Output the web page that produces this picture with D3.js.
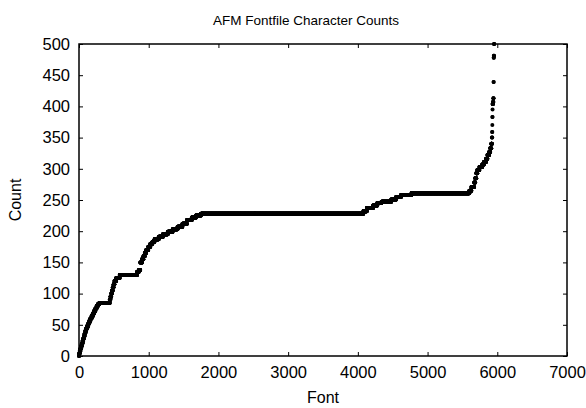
<!DOCTYPE html>
<html>
<head>
<meta charset="utf-8">
<script src="https://cdn.jsdelivr.net/npm/d3@7"></script>
<style>
  body { margin: 0; background: #fff; }
  text { font-family: "Liberation Sans", Arial, sans-serif; fill: #000; }
</style>
</head>
<body>
<svg id="chart"></svg>
<script>
const width = 586;
const height = 408;
const margin = {left: 79, right: 19, top: 44, bottom: 52};

// sorted character counts, stored as value + how many fonts share it
const charCounts = [0, 4, 8, 12, 16, 20, 24, 28, 32, 36, 40, 44, 48, 52, 56, 60, 64, 68, 72, 76, 80, 83, 85,
  90, 95, 100, 105, 110, 115, 120, 125, 130, 135, 138, 150, 155, 160, 165, 170, 175, 180, 183, 187, 191,
  195, 199, 203, 207, 212, 218, 222, 225, 228, 232, 237, 241, 245, 247, 251, 255, 258, 261, 265, 271,
  278, 285, 293, 298, 303, 307, 311, 316, 322, 327, 333, 340, 350, 359, 370, 383, 395, 404, 407, 413,
  439, 478, 481, 500];
const fontTally = [3, 8, 10, 10, 10, 10, 10, 10, 10, 10, 12, 15, 15, 15, 15, 18, 18, 18, 18, 18, 18, 20, 150,
  10, 12, 10, 12, 12, 12, 25, 50, 250, 25, 20, 25, 20, 20, 20, 30, 30, 30, 30, 60, 60,
  70, 70, 70, 70, 65, 70, 60, 70, 2330, 50, 90, 60, 60, 140, 70, 70, 150, 830, 30, 40,
  15, 15, 15, 30, 40, 25, 30, 20, 25, 15, 15, 10, 3, 2, 1, 2, 1, 6, 5, 3,
  2, 2, 3, 3];

const xTicks = [0, 1000, 2000, 3000, 4000, 5000, 6000, 7000];
const yTicks = [0, 50, 100, 150, 200, 250, 300, 350, 400, 450, 500];

// one point per font, in rank order
const points = [];
charCounts.forEach((c, i) => {
  for (let k = 0; k < fontTally[i]; k++) points.push({rank: points.length, count: c});
});

const svg = d3.select('#chart').attr('width', width).attr('height', height);

const x = d3.scaleLinear().domain([0, 7000]).range([margin.left, width - margin.right]);
const y = d3.scaleLinear().domain([0, 500]).range([height - margin.bottom, margin.top]);

const tick = 4;
const xAxis = svg.append('g').attr('transform', `translate(0, ${height - margin.bottom})`)
  .call(d3.axisBottom(x).tickValues(xTicks).tickFormat(d3.format('d'))
    .tickSizeInner(-tick).tickSizeOuter(0).tickPadding(10));
const x2Axis = svg.append('g').attr('transform', `translate(0, ${margin.top})`)
  .call(d3.axisTop(x).tickValues(xTicks).tickSizeInner(-tick).tickSizeOuter(0).tickFormat(''));
const yAxis = svg.append('g').attr('transform', `translate(${margin.left}, 0)`)
  .call(d3.axisLeft(y).tickValues(yTicks).tickSizeInner(-tick).tickSizeOuter(0).tickPadding(9));
const y2Axis = svg.append('g').attr('transform', `translate(${width - margin.right}, 0)`)
  .call(d3.axisRight(y).tickValues(yTicks).tickSizeInner(-tick).tickSizeOuter(0).tickFormat(''));

[xAxis, x2Axis, yAxis, y2Axis].forEach(g => {
  g.select('.domain').remove();
  g.selectAll('line').attr('stroke', '#000').attr('stroke-width', 1);
  g.selectAll('text').attr('font-size', 16.5).style('font-family', '"Liberation Sans", Arial, sans-serif');
});

svg.append('rect')
  .attr('x', margin.left).attr('y', margin.top)
  .attr('width', width - margin.left - margin.right)
  .attr('height', height - margin.top - margin.bottom)
  .attr('fill', 'none').attr('stroke', '#000').attr('stroke-width', 1.5);

svg.append('g').selectAll('circle')
  .data(points)
  .enter()
  .append('circle')
  .attr('cx', d => x(d.rank))
  .attr('cy', d => y(d.count))
  .attr('r', 2)
  .attr('fill', '#000');

svg.append('text')
  .attr('x', 306).attr('y', 25)
  .attr('text-anchor', 'middle').attr('font-size', 13.5)
  .text('AFM Fontfile Character Counts');

svg.append('text')
  .attr('x', (margin.left + width - margin.right) / 2).attr('y', 403)
  .attr('text-anchor', 'middle').attr('font-size', 16)
  .text('Font');

svg.append('text')
  .attr('transform', `translate(21, ${(margin.top + height - margin.bottom) / 2}) rotate(-90)`)
  .attr('text-anchor', 'middle').attr('font-size', 16)
  .text('Count');
</script>
</body>
</html>
